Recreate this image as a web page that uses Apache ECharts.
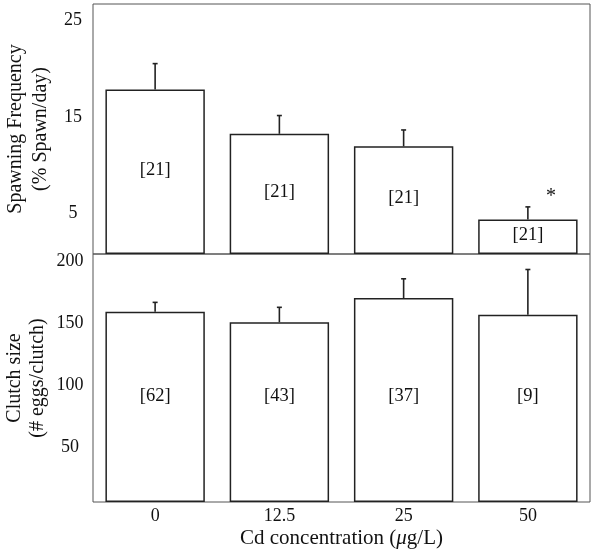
<!DOCTYPE html>
<html>
<head>
<meta charset="utf-8">
<script src="https://cdn.jsdelivr.net/npm/echarts@6/dist/echarts.min.js"></script>
<style>
  html, body { margin: 0; padding: 0; background: #fff; }
  #chart { width: 600px; height: 556px; }
</style>
</head>
<body>
<div id="chart"></div>
<script>
// Cd concentration groups (µg/L)
const categories = ['0', '12.5', '25', '50'];

// top panel: spawning frequency (% spawn/day)
const spawnMean = [17.1, 12.5, 11.2, 3.6];
const spawnErr = [2.7, 1.9, 1.7, 1.3];
const spawnN = ['[21]', '[21]', '[21]', '[21]'];
const spawnSig = ['', '', '', '*'];
const spawnTicks = [5, 15, 25];

// bottom panel: clutch size (# eggs/clutch)
const clutchMean = [153.5, 145, 164.5, 151];
const clutchErr = [7.5, 12, 15.5, 36.5];
const clutchN = ['[62]', '[43]', '[37]', '[9]'];
const clutchTicks = [50, 100, 150, 200];

const FONT = 'Liberation Serif';
const INK = '#111';
const LINE = '#222';

function errorBars(sig) {
  return function (params, api) {
    const i = api.value(0);
    const base = api.coord([i, api.value(1)]);
    const top = api.coord([i, api.value(2)]);
    const cap = 2.5;
    const kids = [
      { type: 'line', shape: { x1: base[0], y1: base[1], x2: top[0], y2: top[1] },
        style: { stroke: LINE, lineWidth: 1.6 } },
      { type: 'line', shape: { x1: top[0] - cap, y1: top[1], x2: top[0] + cap, y2: top[1] },
        style: { stroke: LINE, lineWidth: 1.6 } }
    ];
    if (sig && sig[params.dataIndex]) {
      kids.push({
        type: 'text', x: top[0] + 23, y: top[1] - 10,
        style: { text: sig[params.dataIndex], fontFamily: FONT, fontSize: 20, fill: INK,
                 align: 'center', verticalAlign: 'middle' }
      });
    }
    return { type: 'group', children: kids };
  };
}

const chart = echarts.init(document.getElementById('chart'));

const yLabel = {
  fontFamily: FONT, fontSize: 18, color: INK, align: 'center',
  verticalAlign: 'top', lineHeight: 14
};

const option = {
  animation: false,
  backgroundColor: '#fff',
  grid: [
    { left: 93, right: 10, top: 4, height: 250, show: true, borderColor: '#555', borderWidth: 1,
      outerBoundsMode: 'none', containLabel: false },
    { left: 93, right: 10, top: 254, height: 248, show: true, borderColor: '#555', borderWidth: 1,
      outerBoundsMode: 'none', containLabel: false }
  ],
  xAxis: [
    {
      type: 'category', gridIndex: 0, data: categories,
      axisLine: { show: false }, axisTick: { show: false }, axisLabel: { show: false }
    },
    {
      type: 'category', gridIndex: 1, data: categories,
      axisLine: { show: false }, axisTick: { show: false },
      axisLabel: { fontFamily: FONT, fontSize: 18, color: INK, margin: 5 },
      name: 'Cd concentration ({i|μ}g/L)',
      nameLocation: 'middle', nameGap: 26, nameMoveOverlap: false,
      nameTextStyle: {
        fontFamily: FONT, fontSize: 21, color: INK,
        rich: { i: { fontFamily: FONT, fontSize: 21, fontStyle: 'italic', color: INK } }
      }
    }
  ],
  yAxis: [
    {
      type: 'value', gridIndex: 0, min: 0, max: 26,
      splitLine: { show: false }, axisLine: { show: false }, axisTick: { show: false },
      axisLabel: Object.assign({ customValues: spawnTicks, margin: 20 }, yLabel),
      name: 'Spawning Frequency\n(% Spawn/day)',
      nameLocation: 'middle', nameGap: 40, nameMoveOverlap: false,
      nameTextStyle: { fontFamily: FONT, fontSize: 20, color: INK, lineHeight: 25 }
    },
    {
      type: 'value', gridIndex: 1, min: 0, max: 200,
      splitLine: { show: false }, axisLine: { show: false }, axisTick: { show: false },
      axisLabel: Object.assign({ customValues: clutchTicks, margin: 23 }, yLabel),
      name: 'Clutch size\n(# eggs/clutch)',
      nameLocation: 'middle', nameGap: 44, nameMoveOverlap: false,
      nameTextStyle: { fontFamily: FONT, fontSize: 20, color: INK, lineHeight: 23 }
    }
  ],
  series: [
    {
      type: 'bar', xAxisIndex: 0, yAxisIndex: 0, data: spawnMean,
      barCategoryGap: '20%',
      itemStyle: { color: '#fff', borderColor: LINE, borderWidth: 1.5 },
      label: {
        show: true, position: 'inside', offset: [0, -2],
        formatter: p => spawnN[p.dataIndex],
        fontFamily: FONT, fontSize: 18.5, color: INK
      }
    },
    {
      type: 'custom', xAxisIndex: 0, yAxisIndex: 0, z: 5,
      renderItem: errorBars(spawnSig),
      data: spawnMean.map((m, i) => [i, m, m + spawnErr[i]])
    },
    {
      type: 'bar', xAxisIndex: 1, yAxisIndex: 1, data: clutchMean,
      barCategoryGap: '20%',
      itemStyle: { color: '#fff', borderColor: LINE, borderWidth: 1.5 },
      label: {
        show: true, position: 'insideBottom', distance: 96,
        formatter: p => clutchN[p.dataIndex],
        fontFamily: FONT, fontSize: 18.5, color: INK
      }
    },
    {
      type: 'custom', xAxisIndex: 1, yAxisIndex: 1, z: 5,
      renderItem: errorBars(null),
      data: clutchMean.map((m, i) => [i, m, m + clutchErr[i]])
    }
  ]
};

chart.setOption(option);
</script>
</body>
</html>
